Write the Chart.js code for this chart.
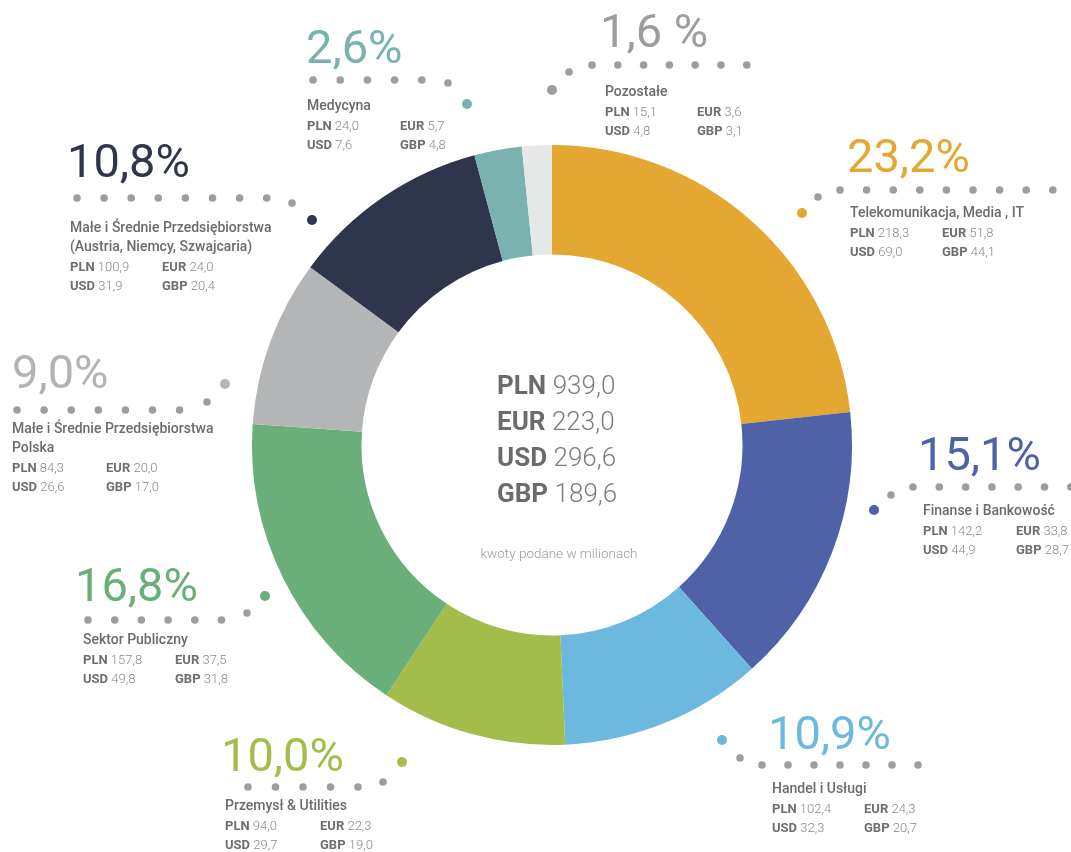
<!DOCTYPE html>
<html lang="pl">
<head>
<meta charset="utf-8">
<title>Struktura przychodów</title>
<script src="https://cdn.jsdelivr.net/npm/chart.js@4/dist/chart.umd.min.js"></script>
<style>
  html, body { margin: 0; padding: 0; background: #ffffff; }
  #wrap { position: relative; width: 1071px; height: 852px; overflow: hidden; }
  canvas { display: block; }
</style>
</head>
<body>
<div id="wrap"><canvas id="chart" width="1071" height="852"></canvas></div>
<script>
// ---------- DATA ----------
const categories = [
  'Telekomunikacja, Media , IT',
  'Finanse i Bankowość',
  'Handel i Usługi',
  'Przemysł & Utilities',
  'Sektor Publiczny',
  'Małe i Średnie Przedsiębiorstwa|Polska',
  'Małe i Średnie Przedsiębiorstwa|(Austria, Niemcy, Szwajcaria)',
  'Medycyna',
  'Pozostałe'
];
const percentLabels = ['23,2%', '15,1%', '10,9%', '10,0%', '16,8%', '9,0%', '10,8%', '2,6%', '1,6 %'];
const plnValues = [218.3, 142.2, 102.4, 94.0, 157.8, 84.3, 100.9, 24.0, 15.1];
const eurValues = [51.8, 33.8, 24.3, 22.3, 37.5, 20.0, 24.0, 5.7, 3.6];
const usdValues = [69.0, 44.9, 32.3, 29.7, 49.8, 26.6, 31.9, 7.6, 4.8];
const gbpValues = [44.1, 28.7, 20.7, 19.0, 31.8, 17.0, 20.4, 4.8, 3.1];
const totalCurrencies = ['PLN', 'EUR', 'USD', 'GBP'];
const totalValues = [939.0, 223.0, 296.6, 189.6];
const footnote = 'kwoty podane w milionach';

// ---------- STYLE / LAYOUT ----------
const segmentColors = ['#E4A731', '#4F62A8', '#6CB8DF', '#A4BD4A', '#6AAE7A', '#B4B5B7', '#2F354B', '#79B2AF', '#E6E8E7'];
const percentColors = ['#E4A731', '#4F62A8', '#6CB8DF', '#A4BD4A', '#6AAE7A', '#B3B3B5', '#2F354B', '#79B2AF', '#9D9D9D'];
const markerColors  = ['#E4A731', '#4F62A8', '#6CB8DF', '#A4BD4A', '#6AAE7A', '#B4B5B7', '#2F354B', '#79B2AF', '#9D9D9D'];

// per-annotation placement (pixels)
const annoLayout = [
  { px: 847, py: 172, mark: [802, 213], link: [818, 197], row: [840, 190, 26.6, 9], lx: 850, ly: 213, ex: 942 },
  { px: 918, py: 470, mark: [874, 510], link: [891, 495], row: [913, 487, 26.3, 7], lx: 923, ly: 511, ex: 1016 },
  { px: 768, py: 749, mark: [722, 740], link: [740, 758], row: [762, 765, 26.0, 7], lx: 772, ly: 789, ex: 864 },
  { px: 221, py: 771, mark: [402, 762], link: [383, 782], row: [248, 787, 27.5, 5], lx: 225, ly: 806, ex: 320 },
  { px: 75,  py: 601, mark: [265, 596], link: [247, 613], row: [88, 620, 26.7, 6], lx: 83, ly: 640, ex: 175 },
  { px: 12,  py: 388, mark: [225, 384], link: [207, 402], row: [17, 410, 27.1, 7], lx: 12, ly: 429, ex: 106 },
  { px: 67,  py: 177, mark: [312, 220], link: [292, 203], row: [77, 198, 27.1, 8], lx: 70, ly: 228, ex: 162 },
  { px: 306, py: 63,  mark: [467, 104], link: [448, 83],  row: [313, 80, 27.2, 5], lx: 307, ly: 106, ex: 400 },
  { px: 600, py: 47,  mark: [552, 90],  link: [569, 72],  row: [592, 65, 25.8, 7], lx: 605, ly: 92, ex: 697 }
];

const FONT = 'Roboto, "Open Sans", "DejaVu Sans", sans-serif';
const fmt = v => v.toFixed(1).replace('.', ',');

function dot(ctx, x, y, r, color) {
  ctx.beginPath();
  ctx.arc(x, y, r, 0, Math.PI * 2);
  ctx.fillStyle = color;
  ctx.fill();
}

function pair(ctx, x, y, code, value, codeFont, valFont, codeColor, valColor) {
  ctx.font = codeFont;
  ctx.fillStyle = codeColor;
  ctx.fillText(code, x, y);
  const w = ctx.measureText(code + ' ').width;
  ctx.font = valFont;
  ctx.fillStyle = valColor;
  ctx.fillText(value, x + w, y);
}

const annotationPlugin = {
  id: 'annotations',
  afterDraw(chart) {
    const ctx = chart.ctx;
    ctx.save();
    categories.forEach((name, i) => {
      const L = annoLayout[i];
      // percentage
      ctx.font = '400 47px ' + FONT;
      ctx.textBaseline = 'alphabetic';
      ctx.textAlign = 'left';
      ctx.fillStyle = percentColors[i];
      ctx.fillText(percentLabels[i], L.px, L.py);
      // dotted leader
      const [rx, ry, step, n] = L.row;
      for (let k = 0; k < n; k++) dot(ctx, rx + k * step, ry, 3.8, '#9D9D9D');
      dot(ctx, L.link[0], L.link[1], 3.8, '#9D9D9D');
      dot(ctx, L.mark[0], L.mark[1], 5, markerColors[i]);
      // category name (may be 2 lines)
      ctx.textBaseline = 'middle';
      const lines = name.split('|');
      let y = L.ly;
      ctx.font = '500 14px ' + FONT;
      ctx.fillStyle = '#6B6B6B';
      lines.forEach((ln, j) => { ctx.fillText(ln, L.lx, y); if (j < lines.length - 1) y += 19; });
      y += 21;
      const cf = '700 13px ' + FONT, vf = '300 13px ' + FONT;
      pair(ctx, L.lx, y, 'PLN', fmt(plnValues[i]), cf, vf, '#6E6E6E', '#8A8A8A');
      pair(ctx, L.ex, y, 'EUR', fmt(eurValues[i]), cf, vf, '#6E6E6E', '#8A8A8A');
      y += 18.5;
      pair(ctx, L.lx, y, 'USD', fmt(usdValues[i]), cf, vf, '#6E6E6E', '#8A8A8A');
      pair(ctx, L.ex, y, 'GBP', fmt(gbpValues[i]), cf, vf, '#6E6E6E', '#8A8A8A');
    });
    // center totals
    ctx.textBaseline = 'middle';
    totalCurrencies.forEach((c, i) => {
      pair(ctx, 497, 387 + i * 36, c, fmt(totalValues[i]), '700 26px ' + FONT, '300 26px ' + FONT, '#6B6B6B', '#7D7D7D');
    });
    ctx.font = '300 13.5px ' + FONT;
    ctx.fillStyle = '#9A9A9A';
    ctx.textAlign = 'center';
    ctx.fillText(footnote, 559, 555);
    ctx.restore();
  }
};

new Chart(document.getElementById('chart'), {
  type: 'doughnut',
  data: {
    labels: categories.map(c => c.replace('|', ' ')),
    datasets: [{
      data: plnValues,
      backgroundColor: segmentColors,
      borderWidth: 0,
      hoverOffset: 0
    }]
  },
  options: {
    responsive: false,
    animation: false,
    cutout: '63.5%',
    layout: { padding: { top: 145, bottom: 107, left: 252, right: 219 } },
    plugins: { legend: { display: false }, tooltip: { enabled: false } }
  },
  plugins: [annotationPlugin]
});
</script>
</body>
</html>
